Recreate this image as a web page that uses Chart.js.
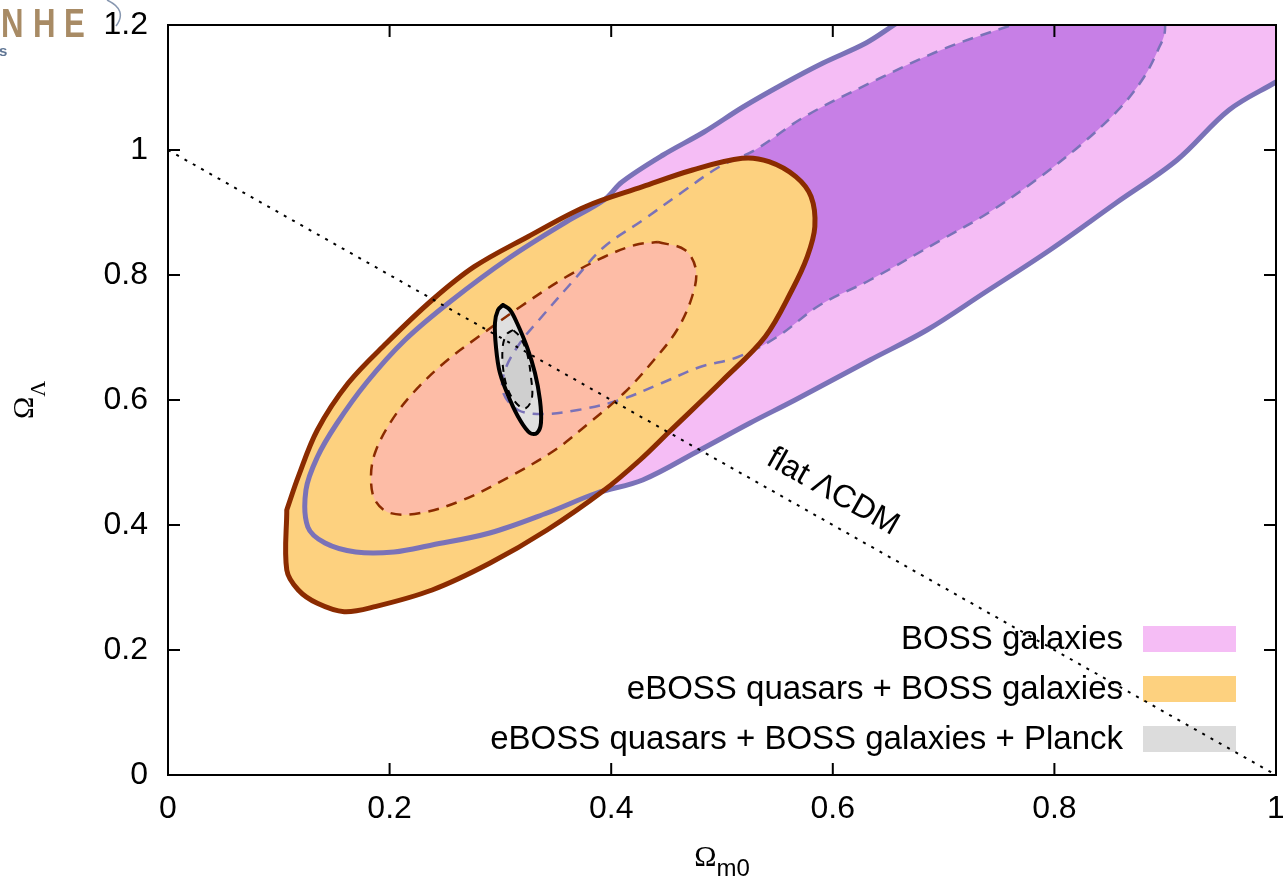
<!DOCTYPE html>
<html>
<head>
<meta charset="utf-8">
<script src="https://cdn.jsdelivr.net/npm/chart.js@4.4.1/dist/chart.umd.min.js"></script>
<style>
  html, body { margin: 0; padding: 0; background: #fff; }
  canvas { display: block; }
</style>
</head>
<body>
<canvas id="chart" width="1283" height="880"></canvas>
<script>
// Axis ticks
const xTickValues = [0, 0.2, 0.4, 0.6, 0.8, 1];
const xTickLabels = ['0', '0.2', '0.4', '0.6', '0.8', '1'];
const yTickValues = [0, 0.2, 0.4, 0.6, 0.8, 1, 1.2];
const yTickLabels = ['0', '0.2', '0.4', '0.6', '0.8', '1', '1.2'];

// Legend entries
const legendLabels = ['BOSS galaxies', 'eBOSS quasars + BOSS galaxies', 'eBOSS quasars + BOSS galaxies + Planck'];
const legendColors = ['#f5bdf5', '#fdd17f', '#dcdcdc'];

// BOSS galaxies, 2-sigma contour (Omega_m0, Omega_Lambda); runs past the top/right edges
const bossWideX = [1.12, 0.78, 0.7058, 0.6552, 0.6300, 0.5912, 0.5569, 0.5190, 0.4838, 0.4468, 0.4097, 0.3935, 0.3592, 0.3078, 0.2554, 0.2139, 0.1796, 0.1521, 0.1348, 0.1245, 0.1262, 0.1417, 0.1694, 0.2040, 0.2383, 0.2903, 0.3421, 0.3870, 0.4284, 0.4801, 0.5253, 0.5659, 0.6336, 0.6850, 0.7365, 0.7960, 0.8556, 0.9107, 0.9576, 1.0, 1.0424, 1.12];
const bossWideY = [1.45, 1.40, 1.2576, 1.2, 1.1712, 1.1392, 1.1072, 1.0688, 1.0288, 0.992, 0.9488, 0.9200, 0.8848, 0.8272, 0.7584, 0.6960, 0.6288, 0.5616, 0.5088, 0.456, 0.3968, 0.3712, 0.3568, 0.3568, 0.368, 0.3872, 0.4192, 0.4512, 0.472, 0.52, 0.5632, 0.6, 0.664, 0.712, 0.7712, 0.84, 0.9152, 0.984, 1.064, 1.1088, 1.1536, 1.25];

// BOSS galaxies, 1-sigma contour
const bossCoreX = [0.8592, 0.8953, 0.8998, 0.8935, 0.8809, 0.8601, 0.8258, 0.7834, 0.7401, 0.6977, 0.6336, 0.5884, 0.5496, 0.5144, 0.4801, 0.4458, 0.4079, 0.3700, 0.3384, 0.3159, 0.3023, 0.3042, 0.3177, 0.3348, 0.3664, 0.3935, 0.4287, 0.4630, 0.4973, 0.5298, 0.5740, 0.6336, 0.6977, 0.7617, 0.8051];
const bossCoreY = [1.2368, 1.2272, 1.192, 1.16, 1.1168, 1.0688, 1.0112, 0.952, 0.8992, 0.856, 0.792, 0.752, 0.7008, 0.6688, 0.6528, 0.6272, 0.6, 0.584, 0.5776, 0.584, 0.6128, 0.648, 0.6912, 0.728, 0.792, 0.8448, 0.888, 0.9312, 0.9728, 1.0, 1.0528, 1.1072, 1.16, 1.2, 1.224];

// eBOSS quasars + BOSS galaxies, 2-sigma contour
const eWideX = [0.1072, 0.1176, 0.1348, 0.1625, 0.1970, 0.2384, 0.2764, 0.3248, 0.3766, 0.4284, 0.4734, 0.5182, 0.5424, 0.5666, 0.5804, 0.5838, 0.5770, 0.5632, 0.5390, 0.5009, 0.4522, 0.4260, 0.3939, 0.3421, 0.2903, 0.2384, 0.1866, 0.1590, 0.1348, 0.1176, 0.1072];
const eWideY = [0.424, 0.4773, 0.552, 0.6267, 0.6907, 0.76, 0.8133, 0.8613, 0.9093, 0.9413, 0.968, 0.9867, 0.9813, 0.9573, 0.9253, 0.8773, 0.8293, 0.776, 0.7013, 0.632, 0.5488, 0.504, 0.456, 0.392, 0.3387, 0.296, 0.2693, 0.2613, 0.2747, 0.296, 0.328];

// eBOSS quasars + BOSS galaxies, 1-sigma contour
const eCoreX = [0.4422, 0.4666, 0.4765, 0.4729, 0.4594, 0.4386, 0.4116, 0.3800, 0.3493, 0.3078, 0.2662, 0.2283, 0.2004, 0.1868, 0.1832, 0.1868, 0.2004, 0.2211, 0.2491, 0.2798, 0.3177, 0.3592, 0.3935, 0.4215];
const eCoreY = [0.8528, 0.84, 0.808, 0.7648, 0.712, 0.664, 0.6112, 0.5632, 0.52, 0.4768, 0.44, 0.4192, 0.4192, 0.44, 0.4768, 0.5152, 0.5632, 0.6112, 0.6592, 0.7008, 0.7488, 0.7968, 0.8288, 0.848];

// + Planck, 2-sigma contour
const planckWideX = [0.3023, 0.2978, 0.2951, 0.2960, 0.2996, 0.3087, 0.3177, 0.3267, 0.3330, 0.3366, 0.3357, 0.3312, 0.3240, 0.3150, 0.3087];
const planckWideY = [0.752, 0.744, 0.7232, 0.6848, 0.6432, 0.6, 0.568, 0.5472, 0.5472, 0.5632, 0.6, 0.6432, 0.6848, 0.7232, 0.744];

// + Planck, 1-sigma contour
const planckCoreX = [0.3114, 0.3059, 0.3023, 0.3023, 0.3069, 0.3159, 0.3231, 0.3285, 0.3276, 0.3240, 0.3177];
const planckCoreY = [0.712, 0.7056, 0.688, 0.6528, 0.616, 0.592, 0.5872, 0.6032, 0.6368, 0.6752, 0.7008];

// Flat universe: Omega_m0 + Omega_Lambda = 1
const flatX = [0, 1];
const flatY = [1, 0];

const SANS = '"Liberation Sans", Arial, Helvetica, sans-serif';
const SERIF = '"Liberation Serif", "Times New Roman", "DejaVu Serif", serif';

function closed(xs, ys) {
  const p = xs.map((x, i) => ({ x, y: ys[i] }));
  p.push({ x: xs[0], y: ys[0] });
  return p;
}

function region(label, xs, ys, color, order) {
  return {
    label, order, data: closed(xs, ys),
    backgroundColor: color, borderColor: 'rgba(0,0,0,0)', borderWidth: 1,
    fill: 'shape', pointRadius: 0, tension: 0.35, capBezierPoints: false, clip: 0
  };
}

function outline(label, xs, ys, color, width, dash, order) {
  return {
    label, order, data: closed(xs, ys),
    borderColor: color, borderWidth: width, borderDash: dash,
    borderJoinStyle: 'round', borderCapStyle: dash.length ? 'butt' : 'round',
    fill: false, pointRadius: 0, tension: 0.35, capBezierPoints: false, clip: 0
  };
}

const BLUE = '#7a72b8';
const BROWN = '#8b2b00';

const datasets = [
  region('BOSS 2σ', bossWideX, bossWideY, '#f5bdf5', 13),
  region('BOSS 1σ', bossCoreX, bossCoreY, '#c77fe6', 12),
  region('eBOSS+BOSS 2σ', eWideX, eWideY, '#fdd17f', 11),
  region('eBOSS+BOSS 1σ', eCoreX, eCoreY, '#fdbca6', 10),
  region('Planck 2σ', planckWideX, planckWideY, '#e0e0e0', 9),
  region('Planck 1σ', planckCoreX, planckCoreY, '#cfcfcf', 8),
  outline('BOSS 2σ edge', bossWideX, bossWideY, BLUE, 5, [], 7),
  outline('BOSS 1σ edge', bossCoreX, bossCoreY, BLUE, 2.5, [11, 8], 6),
  outline('eBOSS+BOSS 2σ edge', eWideX, eWideY, BROWN, 5, [], 5),
  outline('eBOSS+BOSS 1σ edge', eCoreX, eCoreY, BROWN, 2.5, [11, 8], 4),
  outline('Planck 2σ edge', planckWideX, planckWideY, '#000000', 4, [], 3),
  outline('Planck 1σ edge', planckCoreX, planckCoreY, '#000000', 2, [7, 6], 2),
  {
    label: 'flat ΛCDM', order: 1,
    data: flatX.map((x, i) => ({ x, y: flatY[i] })),
    borderColor: '#000', borderWidth: 2, borderDash: [3, 6.5], borderCapStyle: 'butt',
    fill: false, pointRadius: 0, tension: 0, clip: 0
  }
];

// Border box with inward ticks on all four sides
const frame = {
  id: 'frame',
  afterDatasetsDraw(chart) {
    const { ctx, chartArea: a, scales: { x, y } } = chart;
    ctx.save();
    ctx.strokeStyle = '#000';
    ctx.lineWidth = 2;
    ctx.beginPath();
    const t = 12;
    xTickValues.forEach(v => {
      const px = x.getPixelForValue(v);
      ctx.moveTo(px, a.bottom); ctx.lineTo(px, a.bottom - t);
      ctx.moveTo(px, a.top); ctx.lineTo(px, a.top + t);
    });
    yTickValues.forEach(v => {
      const py = y.getPixelForValue(v);
      ctx.moveTo(a.left, py); ctx.lineTo(a.left + t, py);
      ctx.moveTo(a.right, py); ctx.lineTo(a.right - t, py);
    });
    ctx.stroke();
    ctx.strokeRect(a.left, a.top, a.right - a.left, a.bottom - a.top);
    ctx.restore();
  }
};

// Key in the lower right: text to the left of each colour swatch
const keyBox = {
  id: 'keyBox',
  beforeDatasetsDraw(chart) {
    const { ctx, chartArea: a } = chart;
    ctx.save();
    ctx.font = '33px ' + SANS;
    ctx.textAlign = 'right';
    ctx.textBaseline = 'middle';
    legendLabels.forEach((txt, i) => {
      const cy = a.bottom - 136 + i * 50;
      ctx.fillStyle = legendColors[i];
      ctx.fillRect(a.right - 133, cy - 13, 93, 26);
      ctx.fillStyle = '#000';
      ctx.fillText(txt, a.right - 153, cy + 1);
    });
    ctx.restore();
  }
};

// Axis titles, line annotation and the corner mark
const notes = {
  id: 'notes',
  afterDraw(chart) {
    const { ctx, chartArea: a, scales: { x, y } } = chart;
    ctx.save();
    ctx.fillStyle = '#000';
    ctx.textBaseline = 'alphabetic';
    ctx.textAlign = 'left';

    // flat ΛCDM, written along the dotted line
    const ang = Math.atan2(y.getPixelForValue(0) - y.getPixelForValue(1), x.getPixelForValue(1) - x.getPixelForValue(0));
    ctx.save();
    ctx.translate(x.getPixelForValue(0.5300), y.getPixelForValue(0.4700));
    ctx.rotate(ang);
    ctx.font = '32px ' + SANS;
    ctx.fillText('flat ΛCDM', 0, -20);
    ctx.restore();

    // x title: Ω_m0
    const cx = (a.left + a.right) / 2;
    ctx.font = '30px ' + SERIF;
    const wO = ctx.measureText('Ω').width;
    ctx.font = '24px ' + SANS;
    const wS = ctx.measureText('m0').width;
    const sx = cx - (wO + wS) / 2;
    ctx.font = '30px ' + SERIF;
    ctx.fillText('Ω', sx, 866);
    ctx.font = '24px ' + SANS;
    ctx.fillText('m0', sx + wO, 876);

    // y title: Ω_Λ, rotated
    ctx.save();
    ctx.translate(33, (a.top + a.bottom) / 2);
    ctx.rotate(-Math.PI / 2);
    ctx.font = '30px ' + SERIF;
    const wO2 = ctx.measureText('Ω').width;
    ctx.font = '22px ' + SERIF;
    const wL = ctx.measureText('Λ').width;
    const sy = -(wO2 + wL) / 2;
    ctx.font = '30px ' + SERIF;
    ctx.fillText('Ω', sy, 0);
    ctx.font = '22px ' + SERIF;
    ctx.fillText('Λ', sy + wO2, 12);
    ctx.restore();

    // corner mark
    ctx.save();
    ctx.fillStyle = '#a88b65';
    ctx.font = 'bold 40px ' + SANS;
    ctx.scale(0.78, 1);
    ctx.fillText('N', 1 / 0.78, 37);
    ctx.fillText('H', 33 / 0.78, 37);
    ctx.fillText('E', 64 / 0.78, 37);
    ctx.restore();
    ctx.fillStyle = '#5f7594';
    ctx.font = 'bold 15px ' + SANS;
    ctx.fillText('s', -1, 56);
    ctx.strokeStyle = '#8797b0';
    ctx.lineWidth = 1.5;
    ctx.beginPath();
    ctx.moveTo(107, 0);
    ctx.quadraticCurveTo(128, 10, 116, 26);
    ctx.stroke();
    ctx.restore();
  }
};

new Chart(document.getElementById('chart').getContext('2d'), {
  type: 'line',
  data: { datasets },
  options: {
    responsive: false,
    animation: false,
    devicePixelRatio: 1,
    events: [],
    layout: { padding: { top: 25, right: 7, bottom: 0, left: 0 } },
    plugins: {
      legend: { display: false },
      tooltip: { enabled: false },
      filler: { propagate: false }
    },
    elements: { point: { radius: 0 } },
    scales: {
      x: {
        type: 'linear', min: 0, max: 1,
        grid: { display: false, drawTicks: false },
        border: { display: false },
        afterBuildTicks: s => { s.ticks = xTickValues.map(v => ({ value: v })); },
        afterFit: s => { s.height = 105; s.paddingLeft = 0; s.paddingRight = 0; },
        ticks: {
          padding: 15, color: '#000', font: { family: SANS, size: 32 },
          maxRotation: 0, minRotation: 0, autoSkip: false,
          callback: (v, i) => xTickLabels[i]
        }
      },
      y: {
        type: 'linear', min: 0, max: 1.2,
        grid: { display: false, drawTicks: false },
        border: { display: false },
        afterBuildTicks: s => { s.ticks = yTickValues.map(v => ({ value: v })); },
        afterFit: s => { s.width = 168; s.paddingTop = 0; s.paddingBottom = 0; },
        ticks: {
          padding: 20, color: '#000', font: { family: SANS, size: 32 },
          autoSkip: false,
          callback: (v, i) => yTickLabels[i]
        }
      }
    }
  },
  plugins: [keyBox, frame, notes]
});
</script>
</body>
</html>
